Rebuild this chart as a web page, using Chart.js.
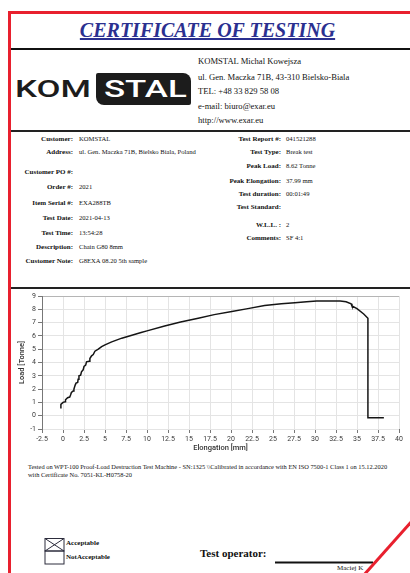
<!DOCTYPE html>
<html><head><meta charset="utf-8">
<script src="https://cdn.jsdelivr.net/npm/chart.js@4/dist/chart.umd.min.js"></script>
<style>
html,body{margin:0;padding:0;background:#fff;}
body{width:410px;height:573px;overflow:hidden;position:relative;}
.t{position:absolute;white-space:nowrap;font-family:"Liberation Serif","Times New Roman",serif;color:#111;}
.b{font-weight:bold;}
#deco{position:absolute;left:0;top:0;}
#chartBox{position:absolute;left:12px;top:289px;width:398px;height:170px;}
.logo{position:absolute;font-family:Roboto,"DejaVu Sans",sans-serif;font-weight:500;white-space:nowrap;transform-origin:left center;}
#logoBox{position:absolute;left:96px;top:73px;width:95px;height:32px;background:#1c1c1c;border-radius:2px 8px 2px 8px;}
</style></head>
<body>
<svg id="deco" width="410" height="573">
  <rect x="8" y="11" width="3" height="562" fill="#e8202e"/>
  <rect x="8" y="11" width="402" height="3" fill="#e8202e"/>
  <rect x="11" y="48" width="399" height="2" fill="#111"/>
  <rect x="11" y="130" width="399" height="2" fill="#222"/>
  <rect x="11" y="287" width="399" height="2" fill="#222"/>
  <rect x="45" y="538.5" width="19" height="12.5" fill="none" stroke="#2d2d3d" stroke-width="1"/>
  <rect x="45" y="551" width="19" height="13" fill="none" stroke="#2d2d3d" stroke-width="1"/>
  <line x1="45" y1="538.5" x2="64" y2="551" stroke="#2d2d3d" stroke-width="1"/>
  <line x1="64" y1="538.5" x2="45" y2="551" stroke="#2d2d3d" stroke-width="1"/>
  <rect x="275" y="561.5" width="98" height="2" fill="#111"/>
</svg>
<div id="logoBox"></div>
<div class="logo" id="kom" style="left:15px;top:75px;font-size:23.4px;line-height:28px;color:#1c1c1c;">KOM</div>
<div class="logo" id="stal" style="left:104px;top:75px;font-size:23.4px;line-height:28px;color:#fff;">STAL</div>
<div id="chartBox"><canvas id="c" width="398" height="170"></canvas></div>
<svg id="deco2" width="410" height="573" style="position:absolute;left:0;top:0;pointer-events:none">
  <polygon points="363,576 413,520 413,576" fill="#fff"/>
  <line x1="363" y1="576" x2="413" y2="520" stroke="#e8202e" stroke-width="3"/>
</svg>
<script>
// ---- chart data ----
const elongation = [-0.25,-0.25,0.0,0.25,0.3,0.55,0.8,0.9,1.0,1.2,1.3,1.45,1.55,1.75,1.8,1.9,2.1,2.2,2.4,2.5,2.7,2.8,3.1,3.2,3.4,3.6,3.8,4.2,4.6,5.0,5.8,7.0,8.1,9.3,10.0,12.1,14.0,16.1,18.0,20.1,22.0,24.0,26.0,27.6,29.0,30.2,32.0,33.0,33.7,34.3,34.4,35.0,35.8,36.3,36.3,38.2];
const load = [0.55,0.85,1.0,1.05,1.2,1.35,1.4,1.55,1.75,1.85,2.0,2.3,2.45,2.5,2.75,3.0,3.05,3.3,3.45,3.7,3.8,4.05,4.1,4.3,4.5,4.6,4.85,5.0,5.2,5.33,5.55,5.83,6.03,6.25,6.38,6.75,7.05,7.33,7.6,7.83,8.05,8.28,8.42,8.5,8.57,8.62,8.63,8.62,8.56,8.42,8.25,8.05,7.65,7.33,-0.15,-0.15];
const xTickLabels = ["-2.5","0","2.5","5","7.5","10","12.5","15","17.5","20","22.5","25","27.5","30","32.5","35","37.5","40"];
const yTickLabels = ["-1","0","1","2","3","4","5","6","7","8","9"];

// ---- document texts ----
const headerLines = ["KOMSTAL Michal Kowejsza","ul. Gen. Maczka 71B, 43-310 Bielsko-Biala","TEL: +48 33 829 58 08","e-mail: biuro@exar.eu","http://www.exar.eu"];
const headerY = [61,77.3,91.5,106,120.5];
const leftLabels = ["Customer:","Address:","Customer PO #:","Order #:","Item Serial #:","Test Date:","Test Time:","Description:","Customer Note:"];
const leftValues = ["KOMSTAL","ul. Gen. Maczka 71B, Bielsko Biala, Poland","","2021","EXA288TB","2021-04-13","13:54:28","Chain G80  8mm","G8EXA 08.20 5th sample"];
const leftY = [139,152.7,172.7,187.7,203.5,218.5,233,247,261.5];
const rightLabels = ["Test Report #:","Test Type:","Peak Load:","Peak Elongation:","Test duration:","Test Standard:","W.L.L. :","Comments:"];
const rightValues = ["041521288","Break test","8.62 Tonne","37.99 mm","00:01:49","","2","SF 4:1"];
const rightY = [139,152.7,166.7,181,194.3,207.3,225,238.3];

function put(text, x, cy, size, opt) {
  opt = opt || {};
  const d = document.createElement('div');
  d.className = 't' + (opt.bold ? ' b' : '');
  d.textContent = text;
  d.style.fontSize = size + 'px';
  d.style.lineHeight = size + 'px';
  d.style.top = (cy - size / 2) + 'px';
  if (opt.align === 'right') d.style.right = (410 - x) + 'px';
  else if (opt.align === 'center') { d.style.left = x + 'px'; d.style.transform = 'translateX(-50%)'; }
  else d.style.left = x + 'px';
  if (opt.italic) d.style.fontStyle = 'italic';
  if (opt.color) d.style.color = opt.color;
  if (opt.underline) d.style.textDecoration = 'underline';
  document.body.insertBefore(d, document.getElementById('deco2'));
  return d;
}

put("CERTIFICATE OF TESTING", 207.5, 29.7, 20, {bold:true, italic:true, underline:true, align:'center', color:'#2b3090'});
headerLines.forEach((s,i) => put(s, 198, headerY[i], 8.6));
leftLabels.forEach((s,i) => { put(s, 73, leftY[i], 7, {bold:true, align:'right'}); if (leftValues[i]) put(leftValues[i], 79, leftY[i], 6.6); });
rightLabels.forEach((s,i) => { put(s, 281, rightY[i], 7, {bold:true, align:'right'}); if (rightValues[i]) put(rightValues[i], 286, rightY[i], 6.6); });
put("Tested on WPT-100 Proof-Load Destruction Test Machine - SN:1325 \\\\Calibrated in accordance with EN ISO 7500-1 Class 1 on 15.12.2020", 28, 467.3, 6.4);
put("with Certificate No. 7051-KL-H0758-20", 28, 475, 6.4);
put("Acceptable", 66, 543.5, 7, {bold:true});
put("NotAcceptable", 66, 557, 7, {bold:true});
put("Test operator:", 200, 553, 11, {bold:true});
put("Maciej K", 337, 568.5, 7);

// logo stretching
(function(){
  const k = document.getElementById('kom'), s = document.getElementById('stal');
  k.style.transform = 'scaleX(' + (76 / k.offsetWidth) + ')';
  s.style.transform = 'scaleX(' + (82 / s.offsetWidth) + ')';
})();

const points = elongation.map((x,i) => ({x:x, y:load[i]}));
const tickFont = {family:'Roboto, "DejaVu Sans", sans-serif', size:7};
new Chart(document.getElementById('c'), {
  type:'scatter',
  data:{datasets:[{data:points, showLine:true, borderColor:'#151515', borderWidth:1.5, pointRadius:0, tension:0, fill:false}]},
  options:{
    responsive:false, animation:false, events:[],
    layout:{padding:{left:0, right:11, top:7, bottom:0}},
    plugins:{legend:{display:false}, tooltip:{enabled:false}},
    scales:{
      x:{type:'linear', min:-2.5, max:40,
        afterBuildTicks: s => { s.ticks = xTickLabels.map(v => ({value:parseFloat(v)})); },
        afterFit: s => { s.height = 30; },
        ticks:{callback:(v,i) => xTickLabels[i], font:tickFont, color:'#3a3a3a', padding:2, maxRotation:0, autoSkip:false},
        grid:{color:'#e4e4e4', tickColor:'#777', tickLength:4, lineWidth:1},
        border:{display:false},
        title:{display:true, text:'Elongation [mm]', font:{family:'Roboto, "DejaVu Sans", sans-serif', size:7.5, weight:'500'}, color:'#333', padding:{top:0,bottom:6}}
      },
      y:{type:'linear', min:-1, max:9,
        afterBuildTicks: s => { s.ticks = yTickLabels.map(v => ({value:parseFloat(v)})); },
        afterFit: s => { s.width = 30; },
        ticks:{callback:(v,i) => yTickLabels[i], font:tickFont, color:'#3a3a3a', padding:2, autoSkip:false},
        grid:{color: c => c.tick && c.tick.value === 9 ? '#b5b5b5' : '#e4e4e4', tickColor:'#777', tickLength:4, lineWidth:1},
        border:{display:true, color:'#777', width:1},
        title:{display:true, text:'Load [Tonne]', font:{family:'Roboto, "DejaVu Sans", sans-serif', size:7.5, weight:'500'}, color:'#333', padding:{top:5.5,bottom:0}}
      }
    }
  }
});
</script>
</body></html>
